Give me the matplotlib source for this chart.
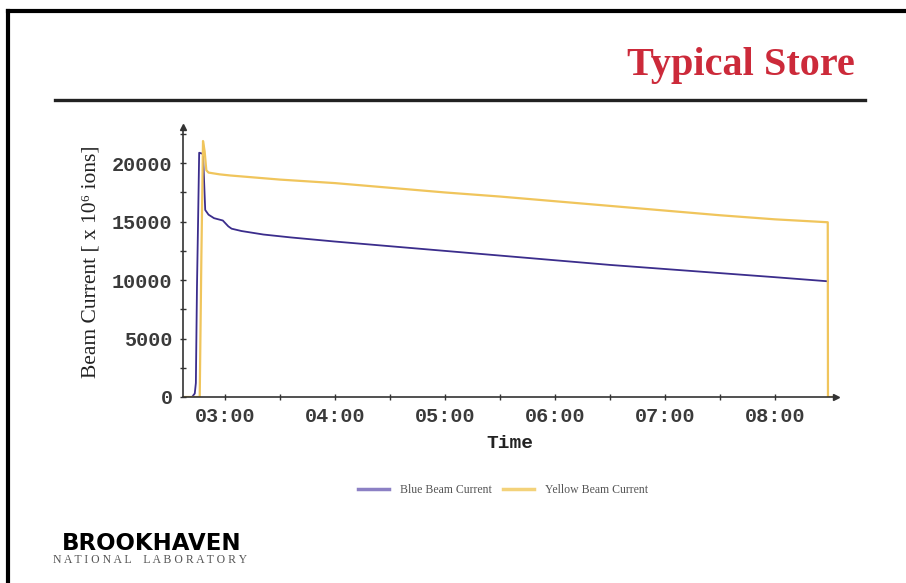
import matplotlib.pyplot as plt
from matplotlib.lines import Line2D
from matplotlib.ticker import FixedLocator, FuncFormatter

# time in hours (2.75 = 02:45), current in 10^6 ions
blue_t = [2.62, 2.70, 2.725, 2.735, 2.745, 2.755, 2.765, 2.80, 2.82, 2.85,
          2.90, 2.98, 3.03, 3.06, 3.15, 3.35, 3.60, 4.00, 4.50, 5.00,
          5.50, 6.00, 6.50, 7.00, 7.50, 8.00, 8.48]
blue_i = [0, 0, 300, 1200, 9400, 15000, 20900, 20800, 16000, 15600,
          15300, 15100, 14600, 14400, 14200, 13900, 13650, 13300, 12900, 12500,
          12100, 11700, 11300, 10950, 10600, 10250, 9900]

yellow_t = [2.62, 2.77, 2.785, 2.80, 2.815, 2.83, 2.85, 2.95, 3.05, 3.50,
            4.00, 4.50, 5.00, 5.50, 6.00, 6.50, 7.00, 7.50, 8.00, 8.48,
            8.482, 8.53]
yellow_i = [0, 0, 12000, 21900, 21000, 19400, 19200, 19050, 18950, 18600,
            18300, 17900, 17500, 17150, 16750, 16350, 15950, 15550, 15200, 14950,
            0, 0]

hour_ticks = [3, 4, 5, 6, 7, 8]
half_ticks = [2.5, 3.5, 4.5, 5.5, 6.5, 7.5]
current_ticks = [0, 5000, 10000, 15000, 20000]
minor_current = [2500, 7500, 12500, 17500, 22500]

blue_col = '#3b2d8c'
yellow_col = '#f0c55c'
axis_col = '#333333'
mono = 'Liberation Mono'

fig = plt.figure(figsize=(9.06, 5.83), dpi=100)

# slide frame and header rule
fig.add_artist(Line2D([8 / 906, 8 / 906], [0, 1 - 11 / 583], color='black', lw=3))
fig.add_artist(Line2D([8 / 906, 1], [1 - 11 / 583, 1 - 11 / 583], color='black', lw=3))
fig.add_artist(Line2D([55 / 906, 865 / 906], [1 - 100 / 583, 1 - 100 / 583], color='#222222', lw=2.4))
fig.text(855 / 906, 1 - 66 / 583, 'Typical Store', ha='right', va='center',
         family='Liberation Serif', weight='bold', size=29, color='#cc2a3a')

ax = fig.add_axes([183 / 906, 1 - 397 / 583, 653 / 906, 270 / 583])
ax.plot(blue_t, blue_i, color=blue_col, lw=1.3, label='Blue Beam Current')
ax.plot(yellow_t, yellow_i, color=yellow_col, lw=1.6, label='Yellow Beam Current')

ax.set_xlim(2.618, 8.555)
ax.set_ylim(0, 23100)
for s in ['top', 'right']:
    ax.spines[s].set_visible(False)
for s in ['left', 'bottom']:
    ax.spines[s].set_color(axis_col)
    ax.spines[s].set_linewidth(1.2)
ax.plot(1, 0, '>', color=axis_col, ms=4, transform=ax.transAxes, clip_on=False)
ax.plot(0, 1, '^', color=axis_col, ms=4, transform=ax.transAxes, clip_on=False)

ax.xaxis.set_major_locator(FixedLocator(hour_ticks))
ax.xaxis.set_minor_locator(FixedLocator(half_ticks))
ax.xaxis.set_major_formatter(FuncFormatter(lambda h, p: '%02d:00' % int(round(h))))
ax.yaxis.set_major_locator(FixedLocator(current_ticks))
ax.yaxis.set_minor_locator(FixedLocator(minor_current))
ax.tick_params(which='both', direction='inout', length=5, width=1, color=axis_col)
ax.tick_params(axis='both', which='major', labelsize=14.5, labelcolor='#3a3a3a', pad=5)
for lbl in ax.get_xticklabels() + ax.get_yticklabels():
    lbl.set_family(mono)
    lbl.set_weight('bold')

ax.set_xlabel('Time', family=mono, weight='bold', size=14, color='#222222', labelpad=6)
ax.set_ylabel('Beam Current [ x 10\u2076 ions]', family='Liberation Serif', size=15.5,
              color='#222222', labelpad=8)

fig.legend(loc='center', bbox_to_anchor=(503 / 906, 1 - 490 / 583), ncol=2,
           frameon=False, prop={'family': 'Liberation Serif', 'size': 8.5},
           handlelength=2.6, columnspacing=1.0, handletextpad=0.9)
for h, c in zip(fig.legends[0].legend_handles, ['#8c80c4', '#f3d27a']):
    h.set_color(c)
    h.set_linewidth(2.5)
for t in fig.legends[0].get_texts():
    t.set_color('#555555')

# laboratory logo
fig.text(62 / 906, 1 - 543 / 583, 'BROOKHAVEN', ha='left', va='center',
         family='DejaVu Sans', weight='heavy', size=16.5, color='black')
fig.text(53 / 906, 1 - 560 / 583, 'N A T I O N A L    L A B O R A T O R Y', ha='left',
         va='center', family='Liberation Serif', size=8.5, color='#555555')

fig.savefig('out.png', dpi=100)
